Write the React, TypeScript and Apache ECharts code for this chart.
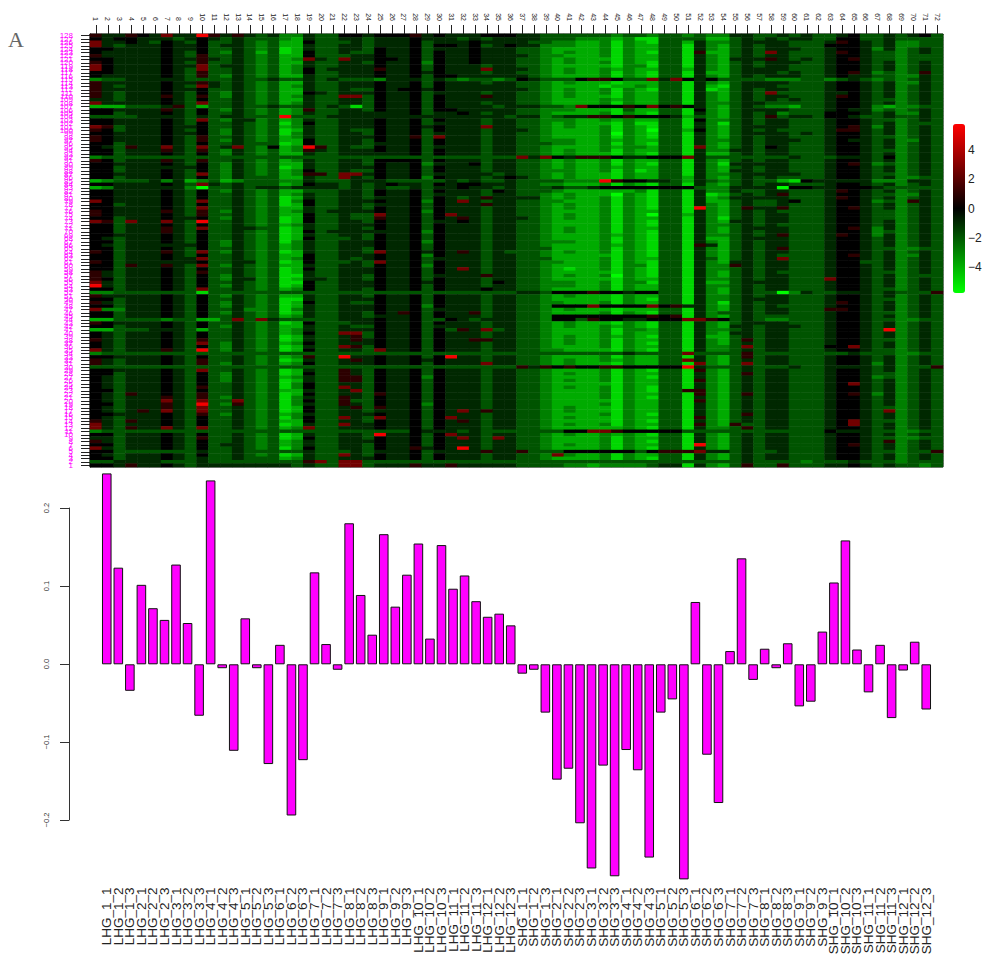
import React, { useEffect, useRef } from "react";
import * as echarts from "echarts";

// Heat levels, top row (128) first; one char per column (1..72), grouped by 12.
const heatLevels: Record<string, number> = { "0": -5.7, "1": -4.9, "2": -3.9, "3": -2.9, "4": -1.9, "5": -0.9, "6": 0, "7": 1, "8": 2.6, "9": 5.6 };
const heatRows: string[] = [
"755765855975 754533544665 666756555666 554444443443 443433554454 544564454564",
"656655545654 544432544554 555655545455 554443332311 444422454545 544664454444",
"855654654644 543422644454 555645556555 544332231321 442533455554 445765453344",
"854555655645 543422544554 555646656456 553332231322 441532454554 446665453344",
"665555655644 543412544554 655645556555 443222231322 441532454555 445665353454",
"655555654643 542412644544 655646556555 443232231321 441722454854 445765443454",
"755555654744 543422644455 655646556555 543322231322 441532454554 445665443444",
"665555655754 543423854855 665646556555 443232221322 441532555754 545675443444",
"765555654744 543422544554 655636556555 443232231321 441532454555 445665453454",
"865555655845 543423544555 655646555455 443222221331 441532454554 445665453454",
"865555654844 543423645555 755646555855 543232232322 442532455554 445665453454",
"665555654744 543423644555 655656555455 443232231321 441522455545 445675343474",
"655555654743 543422544555 655646655555 543222231321 441532454555 445655443354",
"344555554444 544544545444 355545434434 654446776448 586564444333 443454343454",
"755555655754 543422544555 655646555455 443232221222 441532455554 445665453354",
"754555654854 543423544555 655646555555 443222212232 441521455544 445665453454",
"755555655644 543422544544 656656555555 543232231321 441512454554 445665453454",
"754555654643 543422654555 655645555455 443232231322 441532454844 445565453454",
"754555754743 543423544884 655646555755 443232221322 441532454554 445765453454",
"554555654644 543422544554 655646555555 443222232322 441532454545 445665443454",
"855555654844 543423544554 655646555455 443222231322 441533455444 445665453454",
"222444574244 544544545414 655646555545 554438666768 676532454332 445665323344",
"665555754643 543423744554 655646655555 443332221422 441632455554 445655343454",
"664555654644 543423544555 555645565455 443222231321 441532454534 446665453354",
"444455554545 544494445555 555555555554 553455776766 652432454745 546654454454",
"665555654843 553423544555 655646555455 443332232322 441633454554 445665443454",
"665555654644 543413644555 655645555455 443232221311 441531454554 445665453444",
"874555655644 543423544555 655656555855 443232231321 441532455554 445675353454",
"764555654643 543412544544 655646555455 543222231320 442632454544 445775453454",
"665555655643 543413544554 655645555455 443222230321 441532455554 545665453454",
"765555654744 543423544555 655748555455 443222231321 441532454554 445665443454",
"765555654743 543422644554 655646555455 443332232322 441533454555 445655453354",
"664555654644 544412644554 555646555455 444332231321 441532454554 445665453454",
"654755854845 843623974544 655645555455 443222232332 441832454654 445665453454",
"664555754743 543423754555 655646555455 443232231322 441533554554 445665443454",
"664555654643 543422544555 555646555455 443232221321 441522454554 445665453454",
"344444444444 444444444444 444444444444 858657776556 668544444445 444555463454",
"764555754744 543423544554 666646555455 443232231322 441532454554 445665453454",
"665555654643 543422544554 655635556455 443232231321 441531555554 445675343454",
"664555555643 543412544555 655646555455 443232232322 441532454554 445665453454",
"664555654643 543423644544 655646555455 443332231312 441532554554 445665453454",
"665555654843 543423774885 655645555545 443232221322 441533455555 445665443454",
"664555654643 544422544854 655636555456 543232221322 442532454544 445665453344",
"234445352342 344433544455 544444545445 444433397665 542543454421 655555333554",
"665555654854 544423655454 565546566555 443322231321 441532454554 445665453454",
"235555553044 545545555454 544545565545 444544566666 666433555506 655666544444",
"665555654643 543422444554 655646555465 444322222231 441533544554 445765453454",
"665555654644 543423544554 655645555455 443232220321 441512454574 445665443354",
"665555654644 543412544554 555646545755 553232231321 441523555554 445765453454",
"865555654844 543413644555 655636585455 443322231321 441522454456 445665343754",
"664555654644 543412644554 555646555755 443232231321 441532454454 445665453454",
"665555654844 543422544554 655646555455 443232231321 441932475574 445675453454",
"765555754743 543423545555 655636555455 443222231322 441532454544 445665443454",
"765555654744 543422644544 855646855455 443232231320 442532454554 445665443454",
"664555655643 543412644544 755646575455 543232231322 441531454554 445665443454",
"874855854944 543412644554 655645565455 443222231321 441532554554 445665453454",
"664555654644 543423544555 655646555455 443222231321 441533454544 445665453454",
"664555754844 554412544554 655646555455 443232231322 441532455554 445675353454",
"664555754644 543412645555 555636555455 443232231321 441532454554 445665343454",
"665555654644 543412544554 655646555455 443222232321 441533454574 445765353454",
"654555654644 543412644454 655646555455 443222231321 441522455554 445665453454",
"664555654643 543413544555 655636555455 443332231321 441532454554 445665453454",
"654555555643 543423544555 655646555455 443222232321 441752454554 445665453454",
"664555654644 543423544554 655646555455 444222231321 441532454574 445665443344",
"764555754843 543412544554 855656575454 443232231321 441532454554 445665453454",
"664555654644 543422644555 655636555455 443222221321 441532454544 445675453354",
"664555655844 543423644545 655645555455 444222231322 441542454584 445665453454",
"764555555644 553412644454 855646555455 443322231321 441532554554 445664453454",
"664755754843 543422544554 655636555455 443222231331 441533754554 445665453454",
"664555654644 543412644555 655646585455 443212231321 441533454554 445665453454",
"754555654744 543412544555 655646555455 443222221321 441532454544 445665443454",
"754555654643 543411544554 655645555755 443232230321 441532454554 445665453444",
"764555654643 553412554554 655646555455 443222221322 441533454554 448665453454",
"854555654644 543411644555 655656555465 443332231331 441522455554 445665453454",
"954555654643 543412644555 655646555455 443332231322 441533454554 445665453454",
"664555654844 543423644554 655646555655 443222231322 441532454554 445665443454",
"334444444144 444444444444 444444444444 554666766566 441532454403 544555454447",
"755555654643 543422544554 655646555455 443232221322 441533454554 445665453454",
"664555654644 543411544555 655646555455 443222221321 441533455554 445665443454",
"754555654643 543412644544 655646555455 443322231322 441531454554 445765453454",
"664555654643 543412544555 655636555455 443666866668 675532454544 445665453454",
"833555654644 533413544555 655645555455 443232221222 441532454554 447765453454",
"664555654643 543412544554 657646557455 443222231321 441534454554 445665443454",
"664555654644 543423544554 555646555455 443666666667 671532454444 445665453454",
"224444344224 848544444555 655644654555 443664766556 668876454334 445665443344",
"765555654644 543412644455 655646555455 443232221321 441532455554 445665453454",
"664555654643 543422544544 655645555455 443232232321 441532554555 445665453454",
"224445554244 543423544555 655646475845 443222231332 441533454554 445665493454",
"654555654644 543423644884 655646555455 443222231322 441532554554 445665453454",
"654555654644 543412544574 655646555455 443232232321 441522454554 445665453454",
"754555654744 543412544575 655646557755 443232231322 441532474554 445665443454",
"654555654843 543423644555 655646555455 443232231321 441532454554 445665453454",
"654555654643 543412544874 655646555455 443222231322 441533484554 446685453454",
"854555754943 543412644554 855646555455 443322221321 441533454554 445665443454",
"344444444444 444444444444 444444444444 444444444544 448444474444 444454443344",
"665555654644 543423744955 655646955455 443222231322 441532474554 445665453454",
"754555654744 543412544575 655656555455 443232232322 448532454554 445665453454",
"754555654743 543423644555 655646555855 443232221322 441832484554 445665353454",
"444444444444 444444444444 444444444444 757676677666 669544454445 445555453447",
"665555654844 543412544754 655646555455 443222231321 441732454554 445665453454",
"664555654643 543412644754 655646555455 443232231322 441532474554 445665443454",
"654555654643 543423544774 655636555455 443222231321 441532454554 445665343454",
"654555654643 543412544774 655646555455 443232231322 441732454554 445665453454",
"654555654644 543413644554 655646555455 443222221322 441532454554 445685453454",
"654555654744 543413644854 655646555455 443232231321 441532454554 445665453454",
"664555654644 543422544584 655646555455 443222231321 447732454554 445665453454",
"654755654744 543412644554 755646555455 443222231322 441732474554 445675353454",
"654555754743 543413544754 655646555455 443222231321 441532454554 445665453454",
"654555854844 843413644744 655646555455 443222221322 441732454554 445665453454",
"664555754943 743413544754 655636555455 443222231322 441532454554 445665453454",
"654555754844 543412644574 755646555455 443232221322 441532454554 445665443454",
"654575854844 543412644554 555646585755 443232221322 441532454554 445665483454",
"665555654743 543423544555 655646555455 443222231321 441532474554 445665453454",
"654555654644 543413644854 855646855455 443232221322 441732454554 445665453454",
"754755654644 543422644554 655646575455 443222221321 441532454554 445685443454",
"854555654644 543412544855 655646555455 443232231322 441732744554 445685453454",
"854755854844 543423844555 655646555455 443222222321 441533474554 445665453454",
"344444444444 444444444444 444655545444 444466887666 664444444444 446555443344",
"664555654644 543412544554 955646855455 443232232321 441532454554 445665453454",
"554555654744 543412644554 655646585485 443222231322 441532454554 445665443344",
"754555654644 543423544555 655646555455 443222231321 441532454554 445665473454",
"664555654645 543423544554 655646555455 443232231322 441932454554 445675453454",
"854555654644 543413644554 655756595455 443222231321 441532454554 445665453454",
"664444444544 544444544454 555645555755 744466666646 777855454454 445665443447",
"654555654644 543412544854 655646555455 443832231322 441532454554 445665453454",
"664555654544 544423544555 655646555455 443222231321 441532454554 445665453454",
"445555444544 444444784884 444444444444 444444444444 444444454444 344454443444",
"665755654555 555554544884 555755755555 444433233334 551532474474 445565454434",
];

const barValues: number[] = [
  0.245, 0.124, -0.034, 0.102, 0.072, 0.057, 0.128, 0.053, -0.066, 0.236, -0.005, -0.111,
  0.059, -0.005, -0.128, 0.025, -0.194, -0.123, 0.118, 0.026, -0.007, 0.181, 0.089, 0.038,
  0.167, 0.074, 0.115, 0.155, 0.033, 0.153, 0.097, 0.114, 0.081, 0.061, 0.065, 0.05,
  -0.012, -0.007, -0.062, -0.148, -0.134, -0.204, -0.262, -0.13, -0.272, -0.11, -0.136, -0.248,
  -0.062, -0.045, -0.276, 0.08, -0.116, -0.178, 0.017, 0.136, -0.02, 0.02, -0.005, 0.027,
  -0.054, -0.048, 0.042, 0.105, 0.159, 0.019, -0.036, 0.025, -0.069, -0.008, 0.029, -0.058,
];

const groups = ["LHG", "SHG"];
const barLabels: string[] = [];
groups.forEach((g) => {
  for (let a = 1; a <= 12; a++) for (let b = 1; b <= 3; b++) barLabels.push(`${g}_${a}_${b}`);
});
const colLabels: string[] = Array.from({ length: 72 }, (_, i) => String(i + 1));
const rowLabels: string[] = Array.from({ length: 128 }, (_, i) => String(i + 1));
const scaleTicks = [-4, -2, 0, 2, 4];

const FONT = "'Liberation Sans', Arial, sans-serif";

export default function App() {
  const ref = useRef<HTMLDivElement>(null);
  useEffect(() => {
    if (!ref.current) return;
    const chart = echarts.init(ref.current, undefined, { renderer: "svg" });
    const heat: [number, number, number][] = [];
    heatRows.forEach((row, i) => {
      const chars = row.replace(/ /g, "");
      for (let c = 0; c < 72; c++) {
        heat.push([c, 127 - i, heatLevels[chars[c] ?? "5"]]);
      }
    });
    chart.setOption({
      animation: false,
      backgroundColor: "#fff",
      grid: [
        { left: 90, top: 34, width: 853, height: 433, show: true, borderColor: "#111", borderWidth: 1, backgroundColor: "transparent", outerBoundsMode: "none" },
        { left: 101, top: 469.5, width: 831, height: 413, outerBoundsMode: "none" },
        { left: 953, top: 124, width: 12, height: 169, outerBoundsMode: "none" },
        { left: 69, top: 508, width: 1, height: 312, outerBoundsMode: "none" },
      ],
      xAxis: [
        {
          type: "category", gridIndex: 0, position: "top", data: colLabels, boundaryGap: true,
          axisLine: { show: true, lineStyle: { color: "#000" } },
          axisTick: { show: true, alignWithLabel: true, interval: 0, length: 9, lineStyle: { color: "#222", width: 1 } },
          axisLabel: { interval: 0, rotate: 90, fontSize: 7, margin: 13, color: "#222", fontFamily: FONT },
          splitLine: { show: false },
        },
        {
          type: "category", gridIndex: 1, data: barLabels, boundaryGap: true,
          axisLine: { show: false }, axisTick: { show: false },
          axisLabel: { interval: 0, rotate: 90, fontSize: 13.5, margin: 5, color: "#222", fontFamily: FONT },
        },
        { type: "category", gridIndex: 2, data: ["scale"], show: false },
        { type: "category", gridIndex: 3, data: ["axis"], show: false },
      ],
      yAxis: [
        {
          type: "category", gridIndex: 0, data: rowLabels, boundaryGap: true,
          axisLine: { show: true, lineStyle: { color: "#000" } },
          axisTick: { show: true, alignWithLabel: true, interval: 0, length: 9, lineStyle: { color: "#222", width: 1 } },
          axisLabel: { interval: 0, fontSize: 8, margin: 17, color: "#ff00ff", fontFamily: FONT },
          splitLine: { show: false },
        },
        { type: "value", gridIndex: 1, min: -0.28, max: 0.25, show: false },
        {
          type: "value", gridIndex: 2, position: "right", min: -5.8, max: 5.8,
          axisLine: { show: false }, axisTick: { show: false }, splitLine: { show: false },
          axisLabel: { customValues: scaleTicks, fontSize: 12, margin: 3, color: "#222", fontFamily: FONT, align: "left",
            formatter: (v: number) => (v < 0 ? "\u2212" + -v : String(v)) },
        },
        {
          type: "value", gridIndex: 3, min: -0.2, max: 0.2, interval: 0.1,
          axisLine: { show: true, lineStyle: { color: "#333" } },
          axisTick: { show: true, length: 9, lineStyle: { color: "#333" } },
          splitLine: { show: false },
          axisLabel: { rotate: 90, fontSize: 7.5, margin: 19, color: "#333", fontFamily: FONT,
            formatter: (v: number) => (v < 0 ? "\u2212" + (-v).toFixed(1) : v.toFixed(1)) },
        },
      ],
      visualMap: {
        type: "continuous", seriesIndex: 0, min: -5.8, max: 5.8, left: 953, top: 124,
        itemWidth: 12, itemHeight: 169, calculable: false, hoverLink: false, borderRadius: 0,
        inRange: { color: ["#00ff00", "#000000", "#ff0000"] }, text: ["", ""], padding: 0,
      },
      series: [
        { type: "heatmap", xAxisIndex: 0, yAxisIndex: 0, data: heat, progressive: 0, silent: true },
        {
          type: "bar", xAxisIndex: 1, yAxisIndex: 1, data: barValues, barCategoryGap: "17%",
          itemStyle: { color: "#ff00ff", borderColor: "#111", borderWidth: 1 }, silent: true,
        },
        { type: "line", xAxisIndex: 2, yAxisIndex: 2, data: [] },
        { type: "line", xAxisIndex: 3, yAxisIndex: 3, data: [] },
      ],
      graphic: [
        { type: "text", left: 8, top: 28, style: { text: "A", font: "22px 'Liberation Serif', serif", fill: "#666" } },
      ],
    });
    return () => chart.dispose();
  }, []);
  return <div ref={ref} style={{ position: "absolute", left: 0, top: 0, width: 982, height: 955 }} />;
}
